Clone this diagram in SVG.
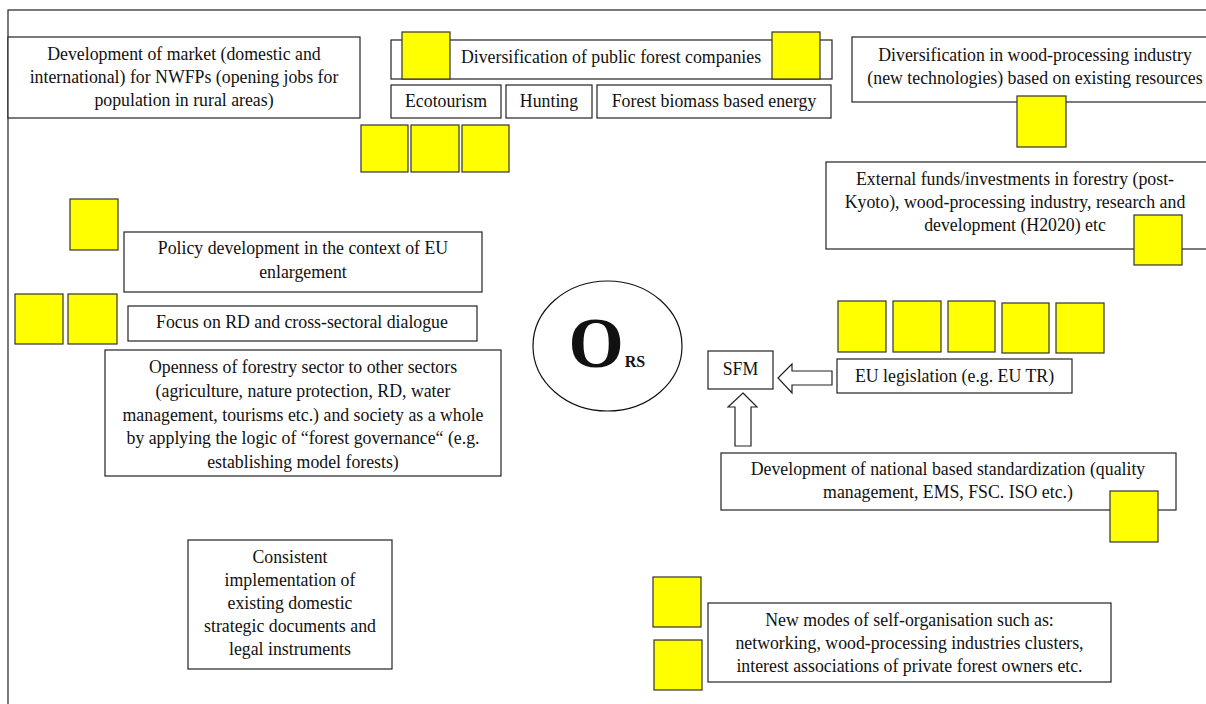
<svg xmlns="http://www.w3.org/2000/svg" width="1206" height="704" viewBox="0 0 1206 704" font-family="'Liberation Serif', 'DejaVu Serif', serif">
<style>
.bx{fill:#fff;stroke:#222;stroke-width:1.2}
.y{fill:#ffff00;stroke:#333;stroke-width:1.2}
.t{font-family:'Liberation Serif', 'DejaVu Serif', serif;font-size:17.8px;fill:#111;text-anchor:middle}
.arr{fill:#fff;stroke:#222;stroke-width:1.2}
</style>
<rect x="0" y="0" width="1206" height="704" fill="#fff"/>
<rect x="8" y="10" width="1260" height="760" fill="none" stroke="#222" stroke-width="1.2"/>

<g id="n-market">
<rect class="bx" x="8" y="37" width="352" height="81"/>
<text class="t" x="184" y="60">Development of market (domestic and</text>
<text class="t" x="184" y="83">international) for NWFPs (opening jobs for</text>
<text class="t" x="184" y="106">population in rural areas)</text>
</g>

<g id="n-public">
<rect class="bx" x="391" y="40" width="441" height="39"/>
<text class="t" x="611" y="63">Diversification of public forest companies</text>
<rect class="y" x="402" y="32" width="48" height="47"/>
<rect class="y" x="772" y="32" width="48" height="47"/>
</g>

<g id="n-eco">
<rect class="bx" x="391" y="85" width="110" height="33"/>
<text class="t" x="446" y="107">Ecotourism</text>
</g>
<g id="n-hunt">
<rect class="bx" x="506" y="85" width="86" height="33"/>
<text class="t" x="549" y="107">Hunting</text>
</g>
<g id="n-bio">
<rect class="bx" x="597" y="85" width="234" height="33"/>
<text class="t" x="714" y="107">Forest biomass based energy</text>
</g>
<g id="y-top3">
<rect class="y" x="361" y="125" width="47" height="47"/>
<rect class="y" x="411" y="125" width="48" height="47"/>
<rect class="y" x="462" y="125" width="47" height="47"/>
</g>

<g id="n-wood">
<rect class="bx" x="852" y="37" width="380" height="65"/>
<text class="t" x="1035" y="61">Diversification in wood-processing industry</text>
<text class="t" x="1035" y="84">(new technologies) based on existing resources</text>
<rect class="y" x="1017" y="96" width="49" height="51"/>
</g>

<g id="n-funds">
<rect class="bx" x="826" y="162" width="400" height="87"/>
<text class="t" x="1015" y="185">External funds/investments in forestry (post-</text>
<text class="t" x="1015" y="208">Kyoto), wood-processing industry, research and</text>
<text class="t" x="1015" y="231">development (H2020) etc</text>
<rect class="y" x="1134" y="215" width="48" height="50"/>
</g>

<g id="n-policy">
<rect class="y" x="70" y="199" width="48" height="51"/>
<rect class="bx" x="124" y="232" width="358" height="60"/>
<text class="t" x="303" y="254">Policy development in the context of EU</text>
<text class="t" x="303" y="278">enlargement</text>
</g>

<g id="n-focus">
<rect class="y" x="15" y="294" width="48" height="50"/>
<rect class="y" x="68" y="294" width="49" height="50"/>
<rect class="bx" x="128" y="306" width="349" height="35"/>
<text class="t" x="302" y="328">Focus on RD and cross-sectoral dialogue</text>
</g>

<g id="n-open">
<rect class="bx" x="105" y="350" width="396" height="126"/>
<text class="t" x="303" y="373">Openness of forestry sector to other sectors</text>
<text class="t" x="303" y="397">(agriculture, nature protection, RD, water</text>
<text class="t" x="303" y="421">management, tourisms etc.) and society as a whole</text>
<text class="t" x="303" y="444">by applying the logic of “forest governance“ (e.g.</text>
<text class="t" x="303" y="468">establishing model forests)</text>
</g>

<g id="n-ors">
<ellipse cx="607.5" cy="346" rx="74.5" ry="65" fill="#fff" stroke="#111" stroke-width="1.2"/>
<text class="t" x="596" y="367" style="font-size:71px;font-weight:bold">O</text>
<text class="t" x="635" y="367" style="font-size:16px;font-weight:bold">RS</text>
</g>

<g id="n-sfm">
<rect class="bx" x="708" y="351" width="65" height="38"/>
<text class="t" x="740.5" y="375">SFM</text>
</g>

<g id="n-eu">
<rect class="y" x="838" y="301" width="48" height="51"/>
<rect class="y" x="893" y="301" width="48" height="51"/>
<rect class="y" x="948" y="301" width="47" height="51"/>
<rect class="y" x="1002" y="303" width="47" height="50"/>
<rect class="y" x="1056" y="303" width="48" height="50"/>
<rect class="bx" x="837" y="359" width="235" height="34"/>
<text class="t" x="954.5" y="382">EU legislation (e.g. EU TR)</text>
</g>

<g id="n-std">
<rect class="bx" x="721" y="453" width="455" height="57"/>
<text class="t" x="948" y="475">Development of national based standardization (quality</text>
<text class="t" x="948" y="498">management, EMS, FSC. ISO etc.)</text>
<rect class="y" x="1110" y="491" width="48" height="51"/>
</g>

<g id="n-consistent">
<rect class="bx" x="188" y="540" width="204" height="129"/>
<text class="t" x="290" y="563">Consistent</text>
<text class="t" x="290" y="586">implementation of</text>
<text class="t" x="290" y="609">existing domestic</text>
<text class="t" x="290" y="632">strategic documents and</text>
<text class="t" x="290" y="655">legal instruments</text>
</g>

<g id="n-newmodes">
<rect class="y" x="653" y="577" width="48" height="50"/>
<rect class="y" x="654" y="640" width="48" height="50"/>
<rect class="bx" x="708" y="603" width="403" height="79"/>
<text class="t" x="909.5" y="626">New modes of self-organisation such as:</text>
<text class="t" x="909.5" y="649">networking, wood-processing industries clusters,</text>
<text class="t" x="909.5" y="672">interest associations of private forest owners etc.</text>
</g>

<g id="connectors">
<path class="arr" d="M778,378 L792,364 L792,371 L832,371 L832,385 L792,385 L792,393 Z"/>
<path class="arr" d="M743,393 L757,407 L751,407 L751,446 L735,446 L735,407 L728,407 Z"/>
</g>
</svg>
